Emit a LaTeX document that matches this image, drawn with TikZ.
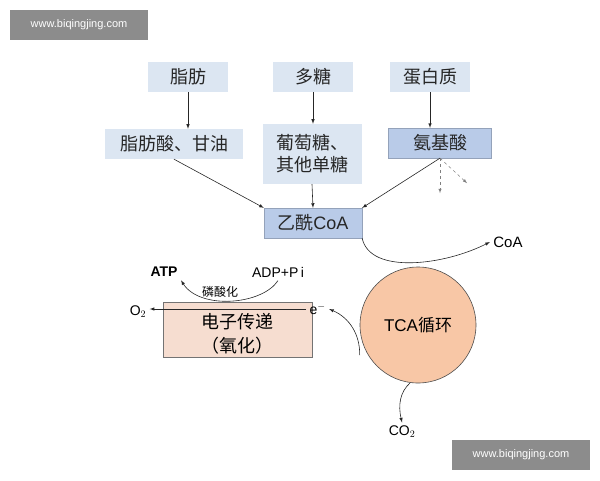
\documentclass[tikz,border=0pt]{standalone}
\usepackage{fontspec}
\setmainfont{Liberation Sans}
\newfontfamily\cjk{Noto Sans CJK SC}
\begin{document}
\begin{tikzpicture}[x=1pt,y=-1pt,font=\cjk,
 lb/.style={fill=lb,minimum height=30pt,font=\cjk\fontsize{18}{22}\selectfont,inner sep=2pt,text=black!85},
 db/.style={fill=db,draw=db!80!black,line width=0.3pt,minimum height=30pt,font=\cjk\fontsize{18}{22}\selectfont,text=black!85},
 ar/.style={-latex,line width=0.6pt,black!85},
 wm/.style={fill=black!45,text=white,font=\fontsize{11}{12}\selectfont,minimum width=138pt,minimum height=30pt}]
\definecolor{lb}{HTML}{DCE6F2}\definecolor{db}{HTML}{B9CBE8}
\definecolor{circ}{HTML}{F8C7A6}\definecolor{etc}{HTML}{F6DDD0}
\useasboundingbox (0,0) rectangle (600,480);
\node[wm] (w1) at (79,25) {www.biqingjing.com};
\node[wm] (w2) at (521,455) {www.biqingjing.com};
\node[lb,minimum width=80pt] (fat) at (188,77) {脂肪};
\node[lb,minimum width=80pt] (poly) at (313,77) {多糖};
\node[lb,minimum width=80pt] (prot) at (430,77) {蛋白质};
\node[lb,minimum width=138pt] (fa) at (174,144) {脂肪酸、甘油};
\node[lb,minimum width=99pt,minimum height=60pt,align=center] (glu) at (312,154) {葡萄糖、\\其他单糖};
\node[db,minimum width=103pt] (aa) at (440,143) {氨基酸};
\node[db,minimum width=98pt] (acoa) at (313,223) {乙酰\textrm{CoA}};
\draw[ar] (fat.south) -- (fat.south|-fa.north);
\draw[ar] (poly.south) -- (poly.south|-glu.north);
\draw[ar] (prot.south) -- (prot.south|-aa.north);
\draw[ar] (fa.south) -- (acoa.north west);
\draw[ar] (glu.south) -- (acoa.north);
\draw[ar] (aa.south) -- (acoa.north east);
\draw[-latex,dashed,gray,line width=0.5pt] (aa.south) -- ++(0,35);
\draw[-latex,dashed,gray,line width=0.5pt] (aa.south) -- ++(27,25);
\node[circle,fill=circ,draw=black!70,line width=0.6pt,minimum size=116pt,font=\fontsize{17}{20}\selectfont] (tca) at (418,325) {TCA\cjk 循环};
\node[font=\fontsize{15}{17}\selectfont] (coa) at (508,242) {CoA};
\draw[ar] (acoa.south east) .. controls (370,275) and (445,265) .. (coa.west);
\node[draw=black!55,fill=etc,minimum width=149pt,minimum height=55pt,line width=0.5pt] (etc) at (237.5,329.5) {};
\node[align=center,font=\cjk\fontsize{18}{24}\selectfont] (etct) at (237.5,334) {电子传递\\（氧化）};
\node[font=\fontsize{14}{16}\selectfont,anchor=west] (e) at (306,309) {e$^-$};
\node[font=\fontsize{14}{16}\selectfont] (o2) at (138,312) {O$_2$};
\draw[ar] (e.west) -- (o2.east|-e.west);
\node[font=\bfseries\fontsize{14}{16}\selectfont] (atp) at (164,272) {ATP};
\node[font=\fontsize{14}{16}\selectfont] (adp) at (278,272) {ADP+P\,i};
\draw[ar] (adp.south) .. controls (262,305) and (200,310) .. (atp.south east);
\node[font=\cjk\fontsize{12}{14}\selectfont] (ph) at (220,292) {磷酸化};
\draw[ar] (tca.west|-0,355) .. controls (360,335) and (350,318) .. (e.east);
\node[font=\fontsize{14}{16}\selectfont] (co2) at (402,432) {CO$_2$};
\draw[ar] (410,383) .. controls (400,392) and (398,405) .. (co2.north);
\end{tikzpicture}
\end{document}
